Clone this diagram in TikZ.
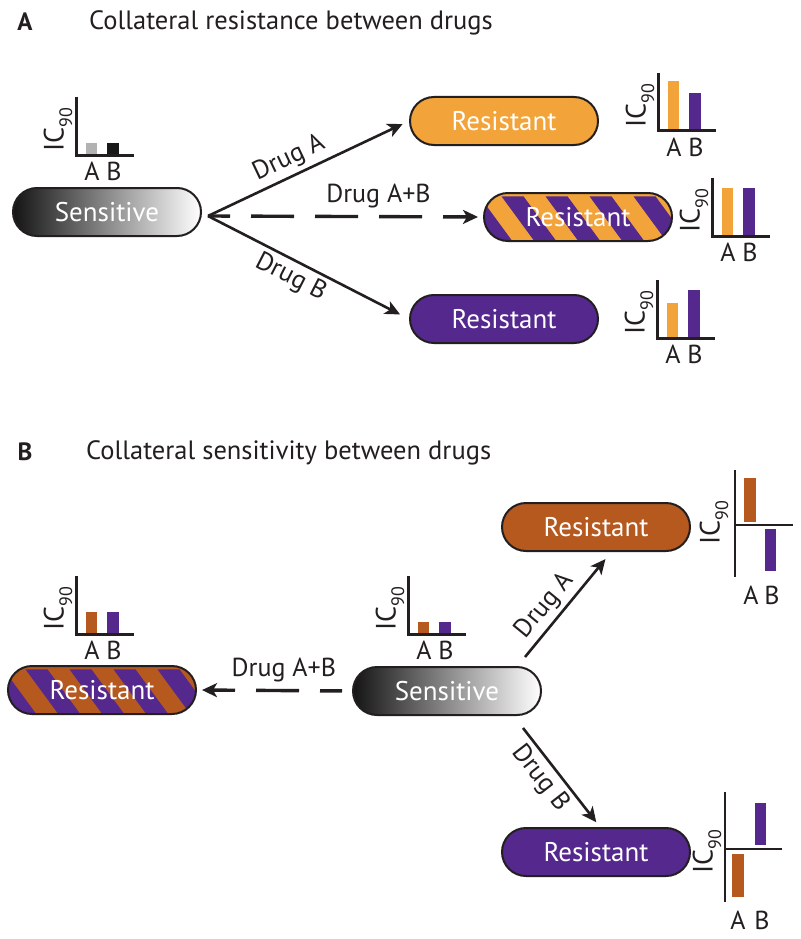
\documentclass[tikz,border=0pt]{standalone}
\usepackage{fontspec}
\setmainfont{PT Sans}
\usetikzlibrary{shapes.misc,arrows.meta,calc}
\definecolor{orA}{HTML}{F2A43A}
\definecolor{puA}{HTML}{55288E}
\definecolor{brB}{HTML}{B5591F}
\definecolor{ink}{HTML}{231F20}
\tikzset{
  pill/.style={rounded rectangle, draw=ink, line width=2pt, minimum width=188pt,
    minimum height=48pt, inner sep=0pt, font=\fontsize{27}{30}\selectfont, text=white},
  stripes/.style 2 args={pill, fill=#1, path picture={
    \begin{scope}[shift={(path picture bounding box.center)}]
      \foreach \k in {-6,...,6}{
        \fill[#2] (\k*44-24,-30) -- (\k*44-2,-30) -- (\k*44+42,30) -- (\k*44+20,30) -- cycle;}
    \end{scope}}},
  conn/.style={draw=ink, line width=2.6pt, -{Stealth[length=15pt,width=14pt,inset=4pt]}},
  dashconn/.style={conn, line width=3.4pt, dash pattern=on 43pt off 21pt, dash phase=21pt},
  lbl/.style={font=\fontsize{26}{28}\selectfont, text=ink, inner sep=2pt},
  ic/.style={font=\fontsize{28}{28}\selectfont, text=ink, inner sep=0pt, rotate=90},
  title/.style={font=\fontsize{26.5}{30}\selectfont, text=ink, anchor=west, inner sep=0pt},
  panel/.style={font=\fontsize{25}{28}\selectfont\bfseries, text=ink, inner sep=0pt},
}
\newcommand{\icnine}{IC\raisebox{-0.6ex}{\fontsize{18}{18}\selectfont 90}}
% L-shaped chart: #1,#2 corner; #3 colour A; #4 height A; #5 colour B; #6 height B; #7 name
\newcommand{\lchart}[7]{%
  \begin{scope}[shift={(#1,#2)}]
    \fill[#3] (10,-1.5) rectangle (21,-1.5-#4);
    \fill[#5] (31,-1.5) rectangle (43,-1.5-#6);
    \draw[line width=3pt, draw=ink, line join=miter] (0,-58) -- (0,0) -- (58,0);
    \node[ic] (#7ic) at (-18,-25) {\icnine};
    \node[lbl, inner sep=0pt] (#7a) at (16,16) {A};
    \node[lbl, inner sep=0pt] (#7b) at (38,16) {B};
  \end{scope}}
\begin{document}
\begin{tikzpicture}[x=1pt, y=-1pt]
\useasboundingbox[fill=white] (0,0) rectangle (800,939);

% ---------------- Panel A ----------------
\node[panel] (pA) at (25,22) {A};
\node[title] (tA) at (89,23) {Collateral resistance between drugs};

\node[pill, draw=ink, shading=axis, left color=black!92, right color=white] (sensA) at (107,212) {Sensitive};
\node[pill, fill=orA] (resA1) at (504,121) {Resistant};
\node[stripes={orA}{puA}] (resA2) at (578,217) {Resistant};
\node[pill, fill=puA] (resA3) at (504,319) {Resistant};

\coordinate (oA) at (208,216);
\draw[conn, shorten >=7pt] (oA) -- (resA1.west)
  node[lbl, sloped, above=2pt, pos=0.44] (dA1) {Drug A};
\draw[dashconn, shorten >=5pt] (oA) -- (resA2.west)
  node[lbl, above=5pt, pos=0.62] (dA2) {Drug A+B};
\draw[conn, shorten >=10pt] (oA) -- (resA3.west)
  node[lbl, sloped, below=2pt, pos=0.45] (dA3) {Drug B};

\lchart{76}{155}{gray!60}{11}{black!90}{11}{cs}
\lchart{658}{131}{orA}{48}{puA}{36}{c1}
\lchart{712}{236}{orA}{47}{puA}{47}{c2}
\lchart{657}{338}{orA}{34}{puA}{47}{c3}

% ---------------- Panel B ----------------
\node[panel] (pB) at (25,452) {B};
\node[title] (tB) at (86,453) {Collateral sensitivity between drugs};

\node[pill, draw=ink, shading=axis, left color=black!92, right color=white] (sensB) at (447,691) {Sensitive};
\node[stripes={brB}{puA}] (resB0) at (102,690) {Resistant};
\node[pill, fill=brB] (resB1) at (596,527) {Resistant};
\node[pill, fill=puA] (resB2) at (596,852) {Resistant};

\draw[dashconn, shorten <=10pt, shorten >=5pt] (sensB.west) -- (resB0.east)
  node[lbl, above=5pt, pos=0.44] (dB0) {Drug A+B};
\coordinate (bA1) at (525,657);
\coordinate (bB1) at (523,728);
\draw[conn, shorten >=4pt] (bA1) -- ($(resB1.south)+(12,4)$)
  node[lbl, sloped, above=2pt, pos=0.40] (dB1) {Drug A};
\draw[conn, shorten >=6pt] (bB1) -- ($(resB2.north)+(4,0)$)
  node[lbl, sloped, below=2pt, pos=0.40] (dB2) {Drug B};

\lchart{76}{634}{brB}{21}{puA}{21}{c4}
\lchart{408}{634}{brB}{11}{puA}{11}{c5}

% cross chart, brown resistant
\begin{scope}[shift={(735,525)}]
  \fill[brB] (9,-3) rectangle (21,-47);
  \fill[puA] (30,4) rectangle (41,46);
  \draw[line width=2pt, draw=ink] (0,-55) -- (0,52);
  \draw[line width=2pt, draw=ink] (0,0) -- (58,0);
  \node[ic] (c6ic) at (-21,-2) {\icnine};
  \node[lbl, inner sep=0pt] (c6a) at (16,70) {A};
  \node[lbl, inner sep=0pt] (c6b) at (37,70) {B};
\end{scope}
% cross chart, purple resistant
\begin{scope}[shift={(725,849)}]
  \fill[puA] (30,-4) rectangle (41,-46);
  \fill[brB] (7,5) rectangle (19,48);
  \draw[line width=2pt, draw=ink] (0,-57) -- (0,53);
  \draw[line width=2pt, draw=ink] (0,0) -- (57,0);
  \node[ic] (c7ic) at (-18,3) {\icnine};
  \node[lbl, inner sep=0pt] (c7a) at (13,71) {A};
  \node[lbl, inner sep=0pt] (c7b) at (37,71) {B};
\end{scope}
\end{tikzpicture}
\end{document}
